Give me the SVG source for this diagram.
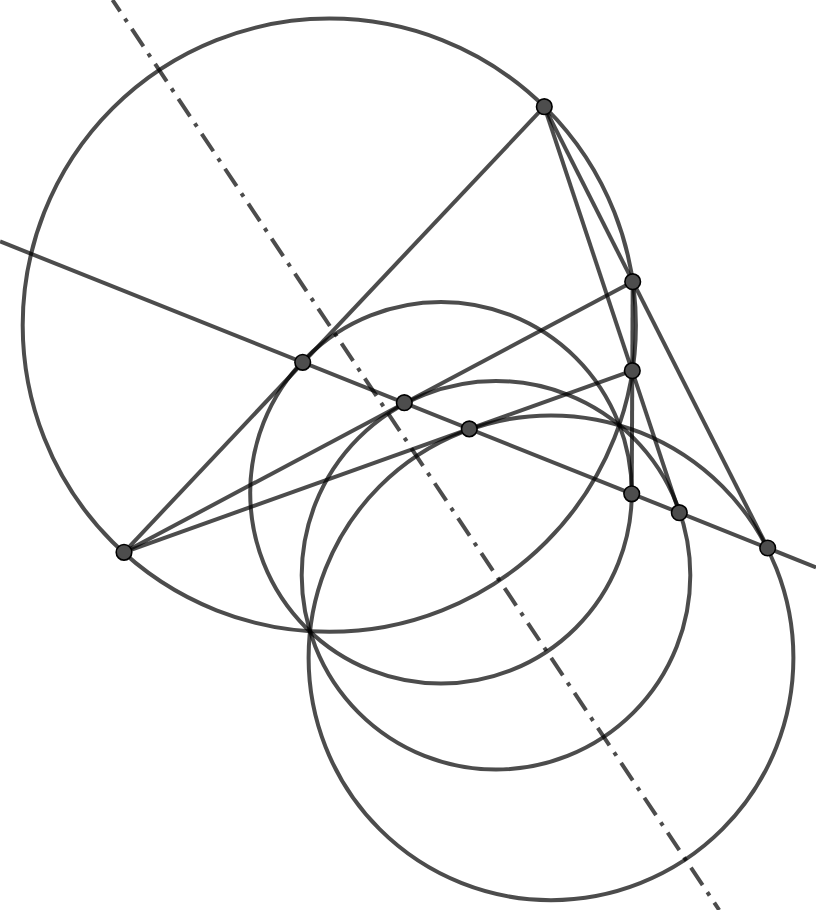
<svg xmlns="http://www.w3.org/2000/svg" width="816" height="910" viewBox="0 0 816 910">
<style>
.ln{fill:none;stroke:#000;stroke-opacity:0.7;stroke-width:4}
.dd{fill:none;stroke:#000;stroke-opacity:0.7;stroke-width:4;stroke-dasharray:21 8.5 4 8.5;stroke-dashoffset:7.2}
.pt{fill:#4d4d4d;stroke:#000;stroke-width:1.6}
</style>
<rect width="816" height="910" fill="#fff"/>
<g id="circles">
<circle class="ln" cx="329.3" cy="325.2" r="306.6"/>
<circle class="ln" cx="441" cy="492.8" r="190.8"/>
<circle class="ln" cx="496" cy="575.3" r="194.3"/>
<circle class="ln" cx="551" cy="657.8" r="242.4"/>
</g>
<g id="connectors">
<line class="dd" x1="112.5" y1="0" x2="719.2" y2="910"/>
<line class="ln" x1="0" y1="241.4" x2="816" y2="567.3"/>
<line class="ln" x1="544.3" y1="106.7" x2="124" y2="552.3"/>
<line class="ln" x1="124" y1="552.3" x2="632.7" y2="281.7"/>
<line class="ln" x1="124" y1="552.3" x2="632.3" y2="370.7"/>
<line class="ln" x1="544.3" y1="106.7" x2="767.7" y2="548"/>
<line class="ln" x1="544.3" y1="106.7" x2="679.3" y2="512.7"/>
<line class="ln" x1="632.7" y1="281.7" x2="631.7" y2="494"/>
</g>
<g id="A"><circle class="pt" cx="544.3" cy="106.7" r="7.8"/></g>
<g id="B"><circle class="pt" cx="124" cy="552.3" r="7.8"/></g>
<g id="C1"><circle class="pt" cx="632.7" cy="281.7" r="7.8"/></g>
<g id="C2"><circle class="pt" cx="632.3" cy="370.7" r="7.8"/></g>
<g id="D"><circle class="pt" cx="302.7" cy="362.3" r="7.8"/></g>
<g id="E"><circle class="pt" cx="404.3" cy="402.7" r="7.8"/></g>
<g id="F"><circle class="pt" cx="469.3" cy="428.9" r="7.8"/></g>
<g id="G"><circle class="pt" cx="631.7" cy="493.8" r="7.8"/></g>
<g id="H"><circle class="pt" cx="679.3" cy="512.7" r="7.8"/></g>
<g id="I"><circle class="pt" cx="767.7" cy="548" r="7.8"/></g>
</svg>
